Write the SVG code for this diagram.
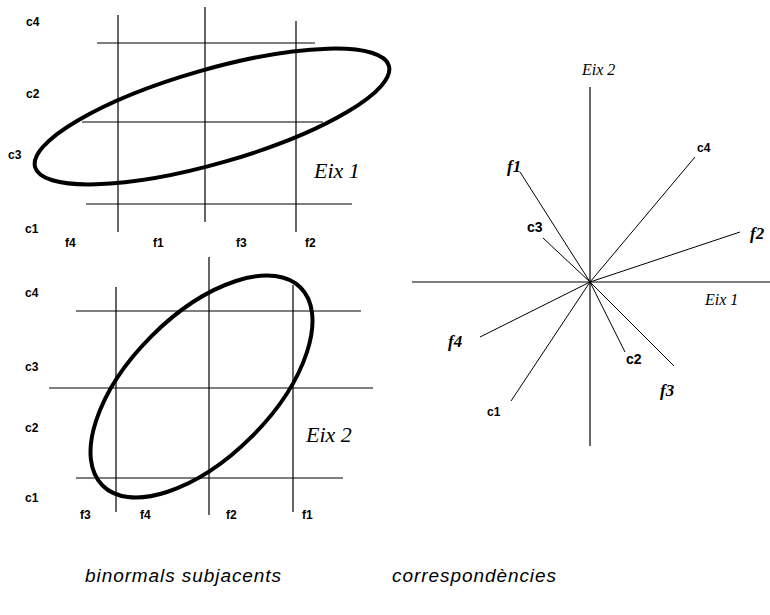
<svg xmlns="http://www.w3.org/2000/svg" width="770" height="615" viewBox="0 0 770 615">
<style>
.grid{stroke:#000;stroke-width:1.2;fill:none}
.ell{stroke:#000;stroke-width:4;fill:none}
.lab{font-family:"Liberation Sans",Arial,sans-serif;font-weight:bold;font-size:12px;fill:#000}
.eix{font-family:"Liberation Serif","Times New Roman",serif;font-style:italic;font-size:22px;fill:#000}
.eixs{font-family:"Liberation Serif","Times New Roman",serif;font-style:italic;font-size:16px;fill:#000}
.vec{stroke:#000;stroke-width:1;fill:none}
.fl{font-family:"Liberation Serif","Times New Roman",serif;font-style:italic;font-weight:bold;font-size:17px;fill:#000}
.cl{font-family:"Liberation Sans",Arial,sans-serif;font-weight:bold;font-size:14px;fill:#000}
.cap{font-family:"Liberation Sans",Arial,sans-serif;font-style:italic;font-size:19px;fill:#000}
</style>
<rect width="770" height="615" fill="#fff"/>
<g id="panel-top">
<line class="grid" x1="118" y1="15" x2="118" y2="232"/>
<line class="grid" x1="205" y1="7" x2="205" y2="222"/>
<line class="grid" x1="296" y1="21" x2="296" y2="232"/>
<line class="grid" x1="97" y1="43" x2="315" y2="43"/>
<line class="grid" x1="82" y1="122" x2="323" y2="122"/>
<line class="grid" x1="86" y1="204" x2="352" y2="204"/>
<ellipse class="ell" cx="212" cy="116.5" rx="184" ry="47" transform="rotate(-16 212 116.5)"/>
<text class="lab" x="26" y="26">c4</text>
<text class="lab" x="26" y="98">c2</text>
<text class="lab" x="8" y="159">c3</text>
<text class="lab" x="25" y="233">c1</text>
<text class="lab" x="65" y="247">f4</text>
<text class="lab" x="153" y="247">f1</text>
<text class="lab" x="236" y="247">f3</text>
<text class="lab" x="305" y="247">f2</text>
<text class="eix" x="314" y="178">Eix 1</text>
</g>
<g id="panel-bottom">
<line class="grid" x1="116" y1="287" x2="116" y2="512"/>
<line class="grid" x1="209" y1="257" x2="209" y2="515"/>
<line class="grid" x1="293" y1="285" x2="293" y2="512"/>
<line class="grid" x1="76" y1="311" x2="361" y2="311"/>
<line class="grid" x1="49" y1="388" x2="373" y2="388"/>
<line class="grid" x1="76" y1="478" x2="343" y2="478"/>
<ellipse class="ell" cx="201.5" cy="386.5" rx="140" ry="71" transform="rotate(-45 201.5 386.5)"/>
<text class="lab" x="25" y="297">c4</text>
<text class="lab" x="25" y="371">c3</text>
<text class="lab" x="25" y="432">c2</text>
<text class="lab" x="25" y="502">c1</text>
<text class="lab" x="80" y="519">f3</text>
<text class="lab" x="140" y="519">f4</text>
<text class="lab" x="226" y="519">f2</text>
<text class="lab" x="302" y="519">f1</text>
<text class="eix" x="306" y="442">Eix 2</text>
</g>
<g id="panel-right">
<line class="grid" x1="590" y1="87" x2="590" y2="446"/>
<line class="grid" x1="412" y1="282" x2="770" y2="282"/>
<text class="eixs" x="582" y="75">Eix 2</text>
<text class="eixs" x="705" y="305">Eix 1</text>
<g id="connectors">
<line class="vec" x1="590" y1="282" x2="520" y2="172"/>
<line class="vec" x1="590" y1="282" x2="695" y2="157"/>
<line class="vec" x1="590" y1="282" x2="740" y2="232"/>
<line class="vec" x1="590" y1="282" x2="543" y2="238"/>
<line class="vec" x1="590" y1="282" x2="480" y2="337"/>
<line class="vec" x1="590" y1="282" x2="511" y2="401"/>
<line class="vec" x1="590" y1="282" x2="625" y2="352"/>
<line class="vec" x1="590" y1="282" x2="674" y2="366"/>
</g>
<g id="n-f1"><text class="fl" x="507" y="172">f1</text></g>
<g id="n-c4"><text class="lab" x="697" y="152">c4</text></g>
<g id="n-f2"><text class="fl" x="750" y="239">f2</text></g>
<g id="n-c3"><text class="cl" x="527" y="232">c3</text></g>
<g id="n-f4"><text class="fl" x="448" y="347">f4</text></g>
<g id="n-c1"><text class="lab" x="487" y="416">c1</text></g>
<g id="n-c2"><text class="cl" x="626" y="364">c2</text></g>
<g id="n-f3"><text class="fl" x="660" y="396">f3</text></g>
</g>
<text class="cap" x="85" y="582" textLength="196" lengthAdjust="spacing">binormals subjacents</text>
<text class="cap" x="392" y="582" textLength="164" lengthAdjust="spacing">correspondències</text>
</svg>
